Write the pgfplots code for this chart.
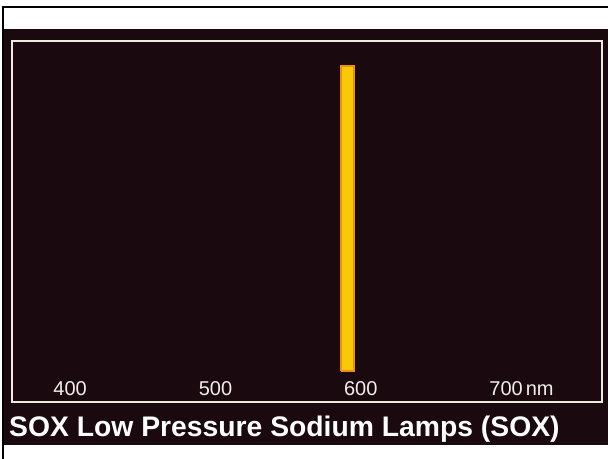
\documentclass[border=0pt]{standalone}
\usepackage{fontspec}
\setmainfont{Liberation Sans}
\usepackage{pgfplots}
\pgfplotsset{compat=1.18}
\definecolor{bgcol}{RGB}{26,10,15}
\definecolor{framecol}{RGB}{238,234,222}
\definecolor{barmid}{RGB}{250,200,5}
\definecolor{baredge}{RGB}{232,145,10}
\definecolor{labcol}{RGB}{242,238,232}
\begin{document}
\begin{tikzpicture}
\useasboundingbox (0,0) rectangle (608bp,459bp);
\fill[white] (0,0) rectangle (608bp,459bp);
% photo frame lines
\fill[black] (2bp,0) rectangle (4bp,453bp);
\fill[black] (2bp,451bp) rectangle (608bp,453bp);
% dark slide background
\fill[bgcol] (4bp,14bp) rectangle (608bp,430bp);
\begin{axis}[
  at={(12bp,57bp)}, anchor=south west,
  scale only axis,
  width=590bp, height=361bp,
  xmin=360, xmax=766,
  ymin=0, ymax=1,
  axis line style={draw=framecol, line width=2.8bp},
  xtick={400,500,600,700},
  xticklabels={400,500,600,{700\rlap{\hspace{3bp}nm}}},
  ytick=\empty,
  major tick length=0pt,
  tick style={draw=none},
  /pgf/number format/assume math mode=true,
  xticklabel style={anchor=base, yshift=6bp, text=labcol,
    font=\fontsize{20bp}{24bp}\selectfont},
  clip=false,
]
\addplot[fill=barmid, draw=baredge, line width=2bp, line join=miter]
  coordinates {(586.7,0.086) (595.3,0.086) (595.3,0.931) (586.7,0.931) (586.7,0.086)};
\end{axis}
\node[anchor=base west, inner sep=0pt, text=white,
  font=\fontsize{28.3bp}{32bp}\selectfont\bfseries] at (9bp,23bp)
  {SOX Low Pressure Sodium Lamps (SOX)};
\end{tikzpicture}
\end{document}
